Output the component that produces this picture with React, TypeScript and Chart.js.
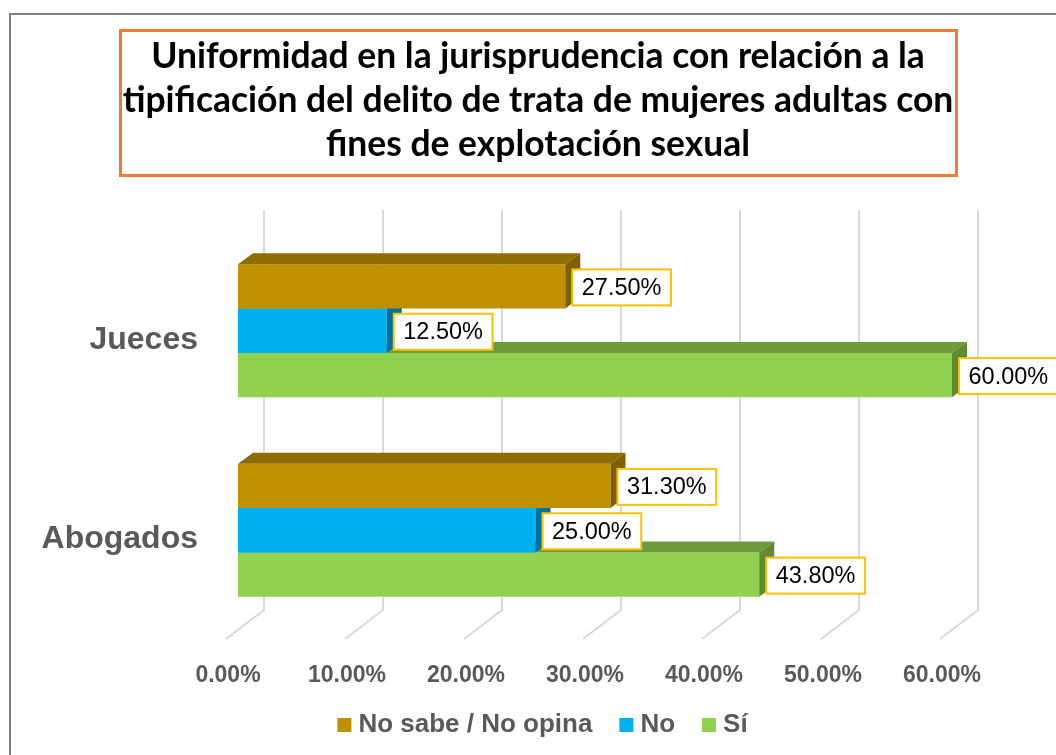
import React, { useEffect, useRef } from 'react';
import { Chart, registerables } from 'chart.js';

Chart.register(...registerables);

// ---- data ----
const categories = ['Jueces', 'Abogados'];
const seriesLabels = ['No sabe / No opina', 'No', 'Sí'];
const noSabeValues = [27.5, 31.3];
const noValues = [12.5, 25.0];
const siValues = [60.0, 43.8];
const xTickMin = 0;
const xTickMax = 60;
const xTickStep = 10;
const titleLines = [
  'Uniformidad en la jurisprudencia con relación a la',
  'tipificación del delito de trata de mujeres adultas con',
  'fines de explotación sexual',
];

// ---- styles ----
const frontColors = ['#BF9000', '#00B0F0', '#92D050'];
const topColors = ['#8F6C00', '#0086B6', '#6E9C3C'];
const sideColors = ['#7F6000', '#00709C', '#5E8A31'];
const DX = 15;
const DY = -11;
const LABEL_FONT = '"Liberation Sans", Arial, sans-serif';

const excel3dPlugin = {
  id: 'excel3d',
  beforeDraw(chart: any) {
    const ctx = chart.ctx as CanvasRenderingContext2D;
    ctx.save();
    ctx.fillStyle = '#ffffff';
    ctx.fillRect(0, 0, chart.width, chart.height);
    // outer chart border
    ctx.strokeStyle = '#7F7F7F';
    ctx.lineWidth = 2;
    ctx.strokeRect(10, 14, chart.width + 40, chart.height + 40);
    // title box
    ctx.strokeStyle = '#ED7D31';
    ctx.lineWidth = 3;
    ctx.strokeRect(120.5, 30.5, 836, 145);
    // title text, fitted to the reference width
    ctx.font = 'bold 100px Lato, "Open Sans", sans-serif';
    const w = ctx.measureText(titleLines[0]).width;
    const size = (100 * 774) / w;
    ctx.font = `bold ${size}px Lato, "Open Sans", sans-serif`;
    ctx.fillStyle = '#000000';
    ctx.textAlign = 'center';
    ctx.textBaseline = 'alphabetic';
    const baselines = [68, 112, 156];
    titleLines.forEach((line, i) => ctx.fillText(line, 538, baselines[i]));
    ctx.restore();
  },
  beforeDatasetsDraw(chart: any) {
    const ctx = chart.ctx as CanvasRenderingContext2D;
    const xs = chart.scales.x;
    const area = chart.chartArea;
    ctx.save();
    ctx.strokeStyle = '#D9D9D9';
    ctx.lineWidth = 2;
    for (const t of xs.ticks) {
      const px = xs.getPixelForValue(t.value);
      ctx.beginPath();
      ctx.moveTo(px + 26, area.top - 21);
      ctx.lineTo(px + 26, area.bottom - 20);
      ctx.lineTo(px - 12, area.bottom + 9);
      ctx.stroke();
    }
    ctx.restore();
  },
  afterDatasetDraw(chart: any, args: any) {
    const ctx = chart.ctx as CanvasRenderingContext2D;
    const i = args.index;
    ctx.save();
    for (const el of args.meta.data) {
      const { x, y, base, height } = el.getProps(['x', 'y', 'base', 'height'], true);
      const top = y - height / 2;
      const bottom = y + height / 2;
      ctx.fillStyle = topColors[i];
      ctx.beginPath();
      ctx.moveTo(base, top);
      ctx.lineTo(x, top);
      ctx.lineTo(x + DX, top + DY);
      ctx.lineTo(base + DX, top + DY);
      ctx.closePath();
      ctx.fill();
      ctx.fillStyle = sideColors[i];
      ctx.beginPath();
      ctx.moveTo(x, top);
      ctx.lineTo(x + DX, top + DY);
      ctx.lineTo(x + DX, bottom + DY);
      ctx.lineTo(x, bottom);
      ctx.closePath();
      ctx.fill();
    }
    ctx.restore();
  },
  afterDatasetsDraw(chart: any) {
    const ctx = chart.ctx as CanvasRenderingContext2D;
    ctx.save();
    ctx.font = `23.5px ${LABEL_FONT}`;
    chart.data.datasets.forEach((ds: any, di: number) => {
      const meta = chart.getDatasetMeta(di);
      meta.data.forEach((el: any, j: number) => {
        const { x, y } = el.getProps(['x', 'y'], true);
        const text = Number(ds.data[j]).toFixed(2) + '%';
        const tw = ctx.measureText(text).width;
        const left = x + 7;
        const bw = tw + 19;
        const bh = 36;
        const top = y + 1 - bh / 2;
        ctx.fillStyle = '#ffffff';
        ctx.fillRect(left, top, bw, bh);
        ctx.strokeStyle = '#FFC000';
        ctx.lineWidth = 2;
        ctx.strokeRect(left, top, bw, bh);
        ctx.fillStyle = '#000000';
        ctx.textAlign = 'left';
        ctx.textBaseline = 'middle';
        ctx.fillText(text, left + 9.5, y + 2);
      });
    });
    ctx.restore();
  },
  afterDraw(chart: any) {
    // legend
    const ctx = chart.ctx as CanvasRenderingContext2D;
    ctx.save();
    ctx.font = `bold 26px ${LABEL_FONT}`;
    const items = chart.data.datasets.map((ds: any) => ({
      label: ds.label,
      color: ds.backgroundColor,
      w: ctx.measureText(ds.label).width,
    }));
    const box = 14;
    const gap = 7;
    const itemGap = 27;
    const total =
      items.reduce((s: number, it: any) => s + box + gap + it.w, 0) + itemGap * (items.length - 1);
    let cx = 542.5 - total / 2;
    const cy = 725;
    items.forEach((it: any) => {
      ctx.fillStyle = it.color;
      ctx.fillRect(cx, cy - box / 2, box, box);
      ctx.fillStyle = '#595959';
      ctx.textAlign = 'left';
      ctx.textBaseline = 'middle';
      ctx.fillText(it.label, cx + box + gap, cy);
      cx += box + gap + it.w + itemGap;
    });
    ctx.restore();
  },
};

export default function App() {
  const ref = useRef<HTMLCanvasElement>(null);
  useEffect(() => {
    if (!ref.current) return;
    const seriesValues = [noSabeValues, noValues, siValues];
    const chart = new Chart(ref.current, {
      type: 'bar',
      data: {
        labels: categories,
        datasets: seriesLabels.map((label, i) => ({
          label,
          data: seriesValues[i],
          backgroundColor: frontColors[i],
          borderWidth: 0,
          categoryPercentage: 0.667,
          barPercentage: 1,
        })),
      },
      options: {
        indexAxis: 'y',
        responsive: false,
        animation: false,
        layout: { padding: { top: 231, right: 104, bottom: 0, left: 0 } },
        plugins: {
          legend: { display: false },
          title: { display: false },
          tooltip: { enabled: false },
        },
        scales: {
          x: {
            min: xTickMin,
            max: xTickMax,
            ticks: {
              stepSize: xTickStep,
              callback: (v: any) => Number(v).toFixed(2) + '%',
              font: { family: LABEL_FONT, weight: 'bold', size: 23 },
              color: '#595959',
              padding: 24,
              labelOffset: -10,
              maxRotation: 0,
              autoSkip: false,
            },
            grid: { display: false },
            border: { display: false },
            afterFit: (s: any) => {
              s.height = 125;
            },
          },
          y: {
            ticks: {
              font: { family: LABEL_FONT, weight: 'bold', size: 32 },
              color: '#595959',
              padding: 32,
              labelOffset: 9,
            },
            grid: { display: false },
            border: { display: false },
            afterFit: (s: any) => {
              s.width = 238;
            },
          },
        },
      },
      plugins: [excel3dPlugin],
    } as any);
    return () => chart.destroy();
  }, []);
  return (
    <div style={{ position: 'absolute', left: 0, top: 0, width: 1056, height: 755 }}>
      <canvas ref={ref} width={1056} height={755} style={{ display: 'block' }} />
    </div>
  );
}
